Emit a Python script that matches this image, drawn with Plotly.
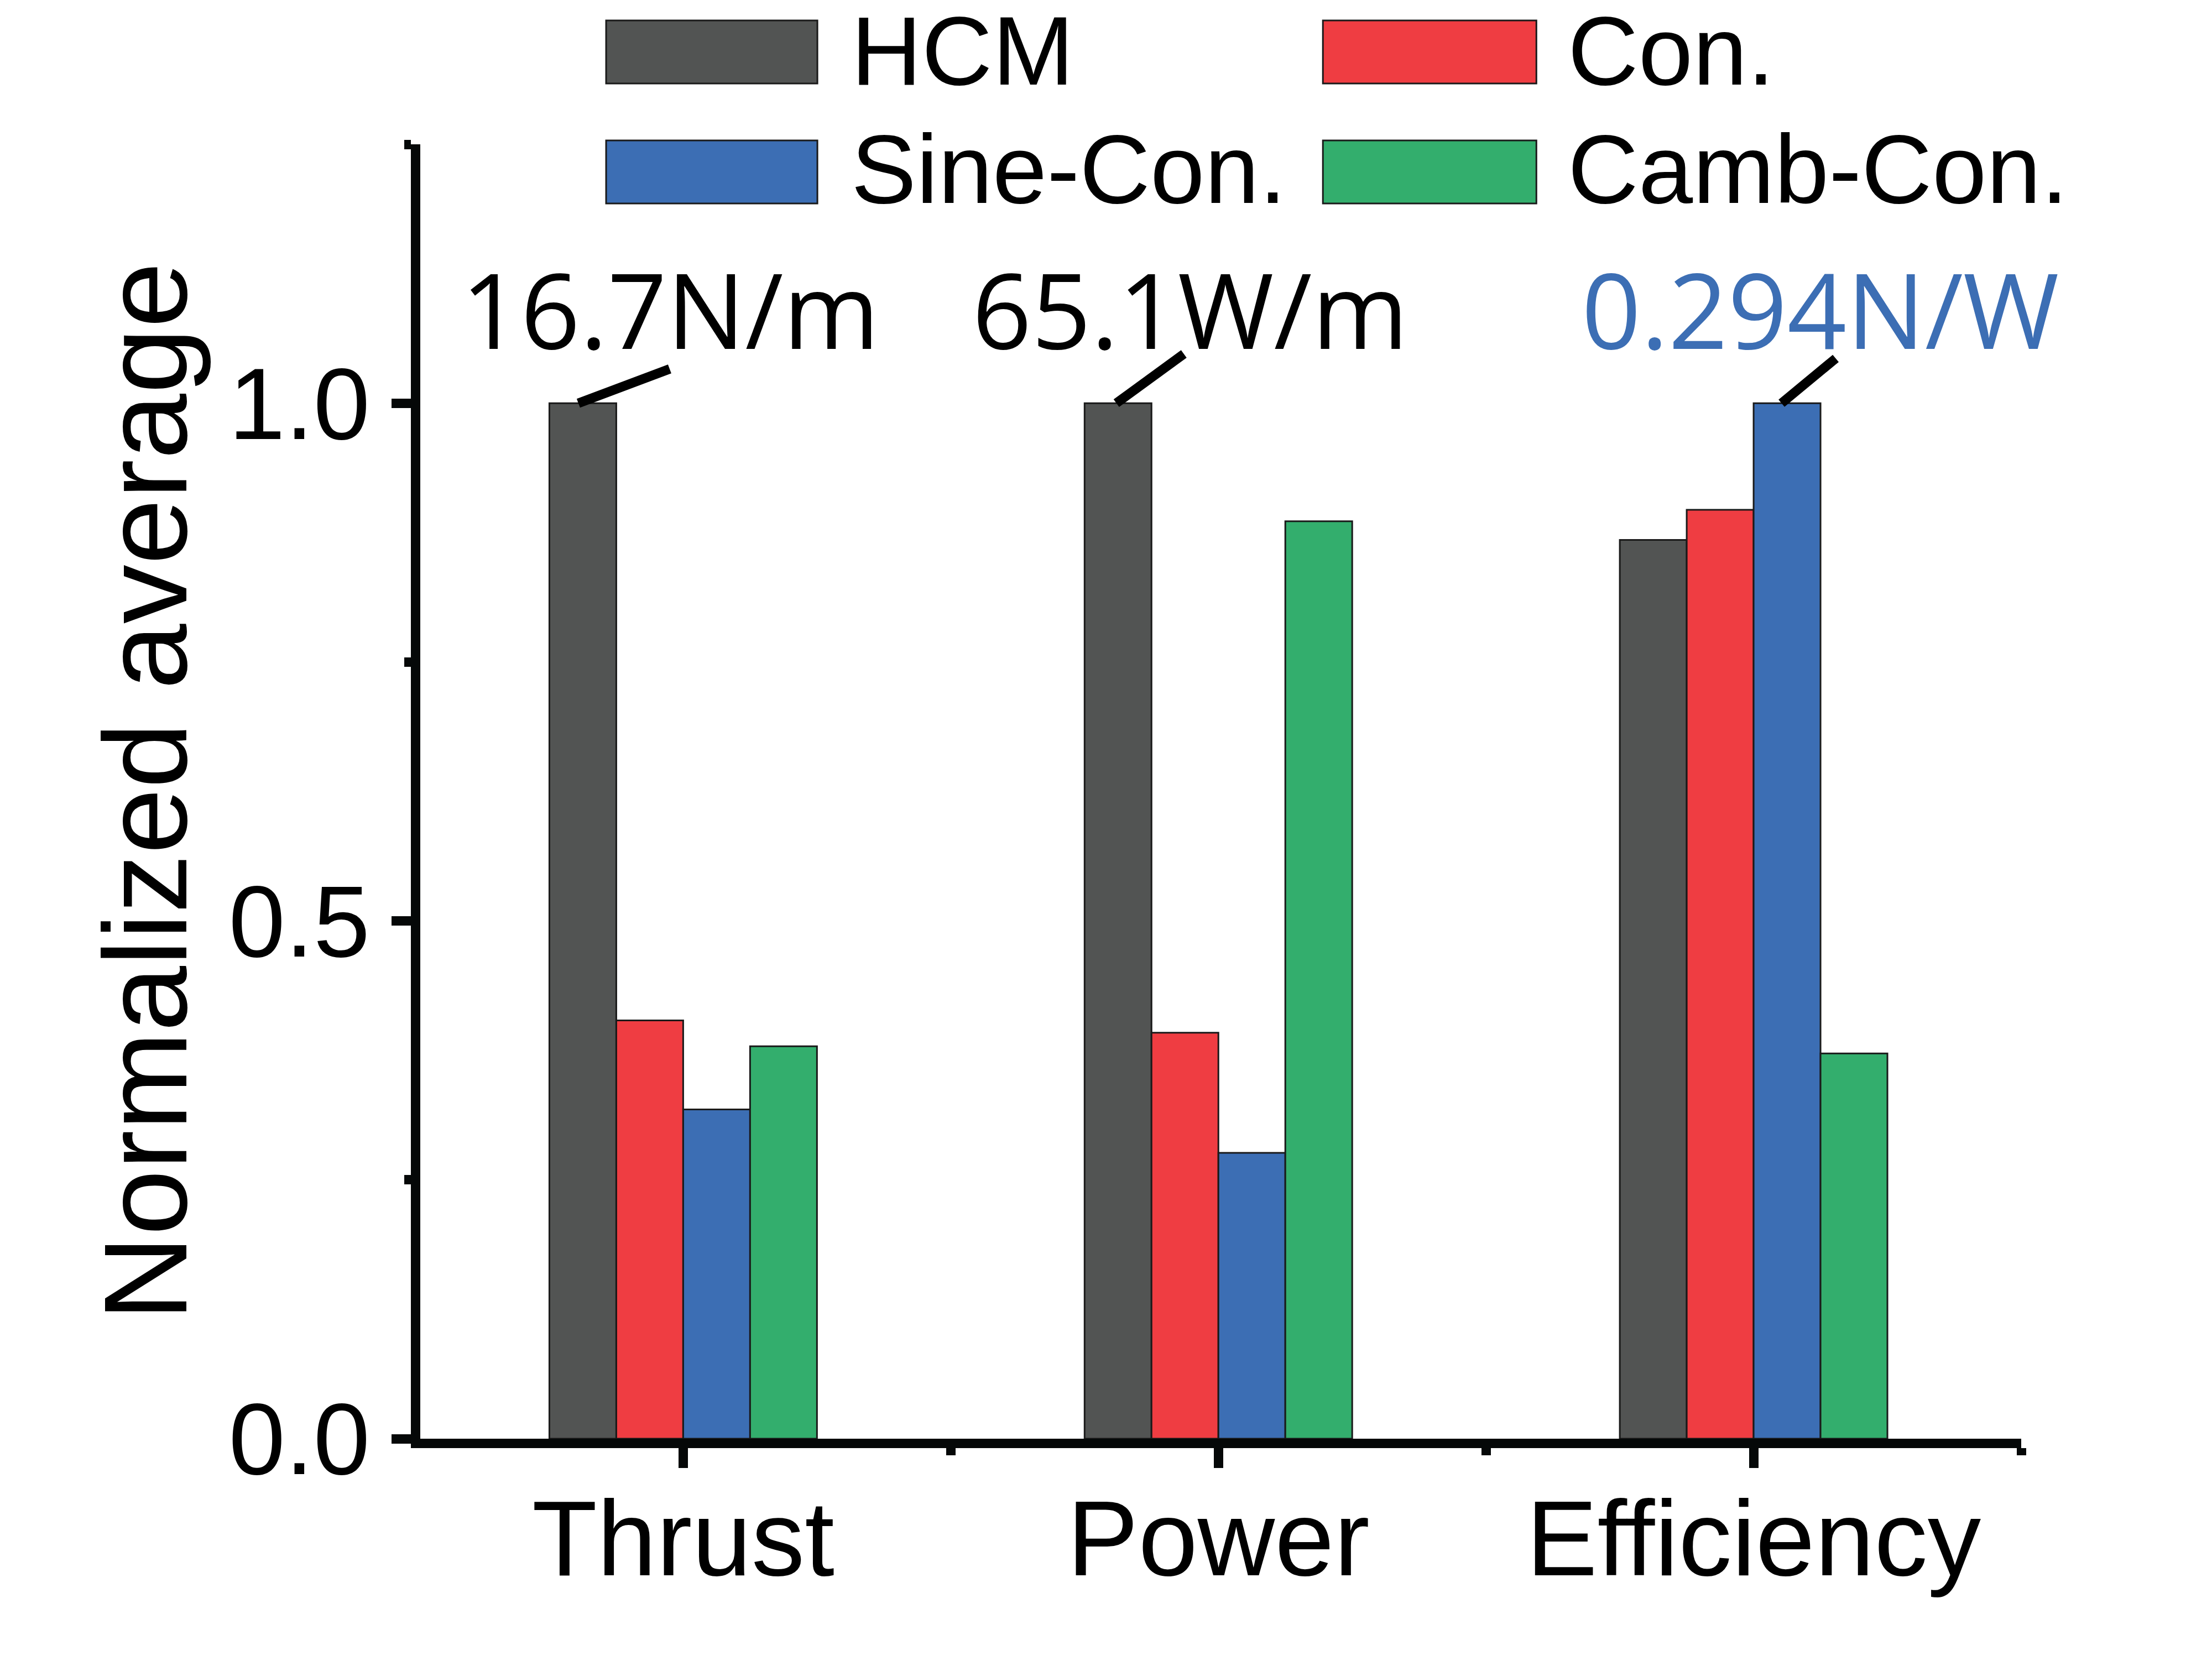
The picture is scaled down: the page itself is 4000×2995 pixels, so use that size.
import plotly.graph_objects as go

# ---------------- data ----------------
categories = ["Thrust", "Power", "Efficiency"]
series_names = ["HCM", "Con.", "Sine-Con.", "Camb-Con."]
hcm = [1.0, 1.0, 0.868]
con = [0.404, 0.392, 0.897]
sine = [0.318, 0.276, 1.0]
camb = [0.379, 0.886, 0.372]
series_colors = ["#525453", "#EF3D42", "#3C6EB4", "#33AE6D"]

value_labels = ["16.7N/m", "65.1W/m", "0.294N/W"]
value_label_series = [0, 0, 2]          # which bar each label refers to
value_label_colors = ["#000000", "#000000", "#3C6EB4"]

y_ticks = [0.0, 0.5, 1.0]

# ---------------- layout geometry (pixels) ----------------
OFF = 8                      # default body margin of the html page
FIG_W, FIG_H = 4000 - OFF, 2995 - OFF
L, R, T, B = 760 - OFF, 3654.6 - OFF, 261 - OFF, 2602 - OFF
PW, PH = R - L, B - T
X_RANGE = [-0.4912, 2.5]
Y_RANGE = [0, 1.25]

AX = "#050808"
LW = 17

def px2paper_x(px):          # px given in reference-image coordinates
    return (px - OFF - L) / PW

def px2paper_y(py):
    return (B - (py - OFF)) / PH

series = [hcm, con, sine, camb]
xpos = list(range(len(categories)))

fig = go.Figure()
for name, vals, col in zip(series_names, series, series_colors):
    fig.add_trace(go.Bar(
        x=xpos, y=vals, name=name,
        marker=dict(color=col, line=dict(color="#1a1a1a", width=3)),
        showlegend=False,
    ))

# bar geometry in data units (group width 0.5, 4 bars)
n = len(series)
bar_w = 0.5 / n
def bar_center(cat_idx, s_idx):
    return cat_idx - 0.25 + bar_w * (s_idx + 0.5)

# leader lines + value labels (pixel offsets = styling)
leader_offsets = [(-8, 0, 157, 62), (-3, 0, 119, 89), (-10, 0, 88, 81)]
label_shifts = [(158, 171), (130, 171), (60, 171)]
shapes = []
annotations = []
for i, (txt, s_idx, col) in enumerate(zip(value_labels, value_label_series, value_label_colors)):
    xc = bar_center(i, s_idx)
    yv = series[s_idx][i]
    x0, y0, x1, y1 = leader_offsets[i]
    shapes.append(dict(
        type="line", xref="x", yref="y",
        xsizemode="pixel", xanchor=xc, x0=x0, x1=x1,
        ysizemode="pixel", yanchor=yv, y0=y0, y1=y1,
        line=dict(color="#000000", width=17),
    ))
    xs, ys = label_shifts[i]
    annotations.append(dict(
        x=xc, y=yv, xref="x", yref="y", text=txt, showarrow=False,
        xanchor="center", yanchor="middle", xshift=xs, yshift=ys,
        font=dict(family="Open Sans", size=188, color=col),
    ))

# manual legend (wide swatches), 2 columns x 2 rows
leg_sw_x = [(1096, 1478), (2392, 2778)]
leg_txt_x = [1537, 2833]
leg_rows_y = [(37, 151), (254, 368)]
leg_txt_y = [92, 306]
for k, (name, col) in enumerate(zip(series_names, series_colors)):
    r, c = divmod(k, 2)
    sx0, sx1 = leg_sw_x[c]
    sy0, sy1 = leg_rows_y[r]
    shapes.append(dict(
        type="rect", xref="paper", yref="paper",
        x0=px2paper_x(sx0), x1=px2paper_x(sx1),
        y0=px2paper_y(sy1), y1=px2paper_y(sy0),
        fillcolor=col, line=dict(color="#1a1a1a", width=3),
    ))
    annotations.append(dict(
        x=px2paper_x(leg_txt_x[c]), y=px2paper_y(leg_txt_y[r]),
        xref="paper", yref="paper", text=name, showarrow=False,
        xanchor="left", yanchor="middle", height=150, valign="middle",
        font=dict(family="Liberation Sans", size=177, color="#000000"),
    ))

fig.update_layout(
    width=FIG_W, height=FIG_H,
    margin=dict(l=L, r=FIG_W - R, t=T, b=FIG_H - B, pad=0, autoexpand=False),
    paper_bgcolor="white", plot_bgcolor="white",
    barmode="group", bargap=0.5, bargroupgap=0,
    font=dict(family="Liberation Sans", color="#000000"),
    shapes=shapes, annotations=annotations,
    showlegend=False,
)

fig.update_xaxes(
    range=X_RANGE, showgrid=False, zeroline=False,
    showline=True, linecolor=AX, linewidth=LW,
    tickmode="array", tickvals=xpos, ticktext=categories,
    ticks="outside", ticklen=36, tickwidth=LW, tickcolor=AX,
    tickfont=dict(family="Liberation Sans", size=193, color="#000000"),
    ticklabelstandoff=-38,
    minor=dict(ticks="outside", tick0=0.5, dtick=1, ticklen=13, tickwidth=LW, tickcolor=AX),
    automargin=False,
)
fig.update_yaxes(
    range=Y_RANGE, showgrid=False, zeroline=False,
    showline=True, linecolor=AX, linewidth=LW,
    tickmode="array", tickvals=y_ticks, ticktext=[f"{v:.1f}" for v in y_ticks],
    ticks="outside", ticklen=35, tickwidth=LW, tickcolor=AX,
    tickfont=dict(family="Liberation Sans", size=184, color="#000000"),
    ticklabelstandoff=2,
    minor=dict(ticks="outside", tick0=0.25, dtick=0.5, ticklen=12, tickwidth=LW, tickcolor=AX),
    title=dict(text="Normalized average", standoff=10,
               font=dict(family="Liberation Sans", size=214, color="#000000")),
    automargin=False,
)

fig.write_html("out.html")
